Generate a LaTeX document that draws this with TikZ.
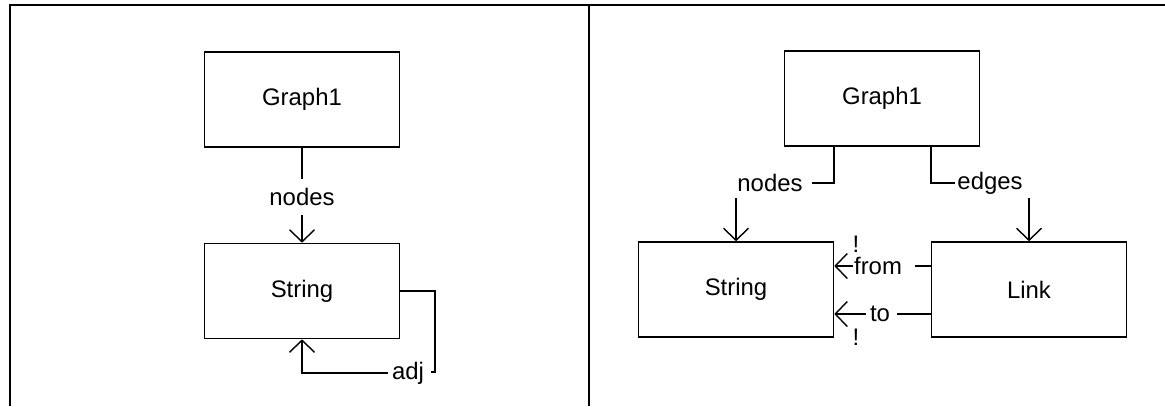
\documentclass[tikz,border=0pt]{standalone}
\usepackage{fontspec}
\setmainfont{Liberation Sans}
\usetikzlibrary{arrows.meta}
\begin{document}
\begin{tikzpicture}[x=0.02cm, y=-0.02cm,
  cls/.style={draw, line width=0.9pt, minimum width=3.9cm, minimum height=1.9cm, inner sep=0pt, font=\fontsize{13.6}{15}\selectfont},
  lbl/.style={inner sep=2pt, font=\fontsize{13.6}{15}\selectfont},
  conn/.style={line width=0.8pt},
  ref/.style={conn, -{Straight Barb[length=0.24cm, width=0.5cm]}},
  frame/.style={line width=1.2pt}]
\useasboundingbox (0,0) rectangle (1165,406);
  \draw[frame] (10,406) -- (10,5) -- (1165,5);
  \draw[frame] (589,5) -- (589,406);
\begin{scope}
  \node[cls] (graphA) at (302,99.5) {Graph1};
  \node[cls] (stringA) at (302,291) {String};
  \node[lbl, inner ysep=5pt] (nodesA) at (302,197) {nodes};
  \node[lbl] (adjA) at (408,373) {adj};
  \coordinate (adjTurn) at (435,372);
  \draw[conn] (graphA.south) -- (nodesA.north);
  \draw[ref] (nodesA.south) -- (stringA.north);
  \draw[conn] (stringA.east) -| (adjTurn) -- ++(-4,0);
  \draw[ref] (adjA.west) -| (stringA.south);
\end{scope}
\begin{scope}
  \node[cls] (graphB) at (882,98.5) {Graph1};
  \node[cls] (stringB) at (736,289.5) {String};
  \node[cls] (linkB) at (1029,289.5) {Link};
  \node[lbl] (nodesB) at (770,183) {nodes};
  \node[lbl, inner sep=1pt] (edgesB) at (990,183) {edges};
  \node[lbl, inner xsep=0.5pt] (fromB) at (878,266) {from};
  \node[lbl] (toB) at (880,314) {to};
  \node[lbl] (bangTop) at (856,244.5) {!};
  \node[lbl] (bangBot) at (856,337) {!};
  \draw[conn, shorten >=3pt] ([xshift=-0.96cm]graphB.south) |- (nodesB.east);
  \draw[conn] ([xshift=0.98cm]graphB.south) |- (edgesB.west);
  \draw[ref] ([yshift=0.86cm]stringB.north) -- (stringB.north);
  \draw[ref] ([yshift=0.86cm]linkB.north) -- (linkB.north);
  \draw[conn, shorten >=7pt] (fromB -| linkB.west) -- (fromB.east);
  \draw[ref] (fromB.west) -- (fromB -| stringB.east);
  \draw[conn, shorten >=2pt] (toB -| linkB.west) -- (toB.east);
  \draw[ref] (toB.west) -- (toB -| stringB.east);
\end{scope}
\end{tikzpicture}
\end{document}
